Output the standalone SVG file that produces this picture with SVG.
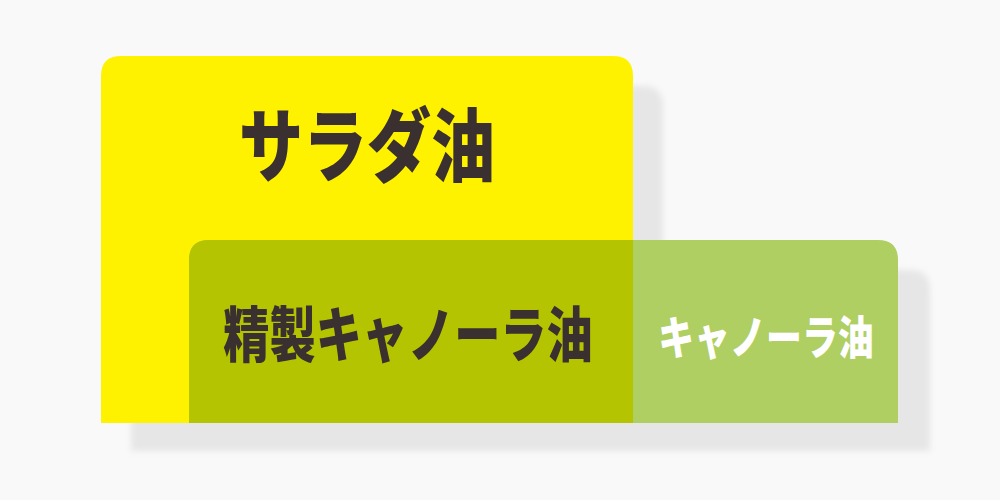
<svg xmlns="http://www.w3.org/2000/svg" width="1000" height="500" viewBox="0 0 1000 500">
<defs>
<filter id="blur" x="-10%" y="-10%" width="120%" height="120%"><feGaussianBlur stdDeviation="3"/></filter>
<style>
.t{font-family:"Noto Sans CJK JP","Noto Sans",sans-serif;font-weight:900;text-anchor:middle;dominant-baseline:central}
.dark{fill:#3a3030}
.light{fill:#ffffff}
</style>
</defs>
<rect width="1000" height="500" fill="#f9f9f9"/>
<g id="shadows" filter="url(#blur)" fill="#e6e6e6">
<path d="M131,451 V106 Q131,86 151,86 H643 Q663,86 663,106 V270 H910 Q930,270 930,290 V451 Z"/>
</g>
<g id="salad-oil">
<path d="M101,423 V76 Q101,56 121,56 H613 Q633,56 633,76 V423 Z" fill="#fff200"/>
<text class="t dark" font-size="80" transform="translate(367,140) scale(0.8,1)">サラダ油</text>
</g>
<g id="canola-oil">
<path d="M189,423 V260 Q189,240 209,240 H878 Q898,240 898,260 V423 Z" fill="#afcf62"/>
<text class="t light" font-size="46" transform="translate(766,334) scale(0.78,1)">キャノーラ油</text>
</g>
<g id="refined-canola-oil">
<path d="M189,423 V260 Q189,240 209,240 H633 V423 Z" fill="#b5c400"/>
<text class="t dark" font-size="60" transform="translate(408,331) scale(0.77,1)">精製キャノーラ油</text>
</g>
<g id="connectors"/>
</svg>
